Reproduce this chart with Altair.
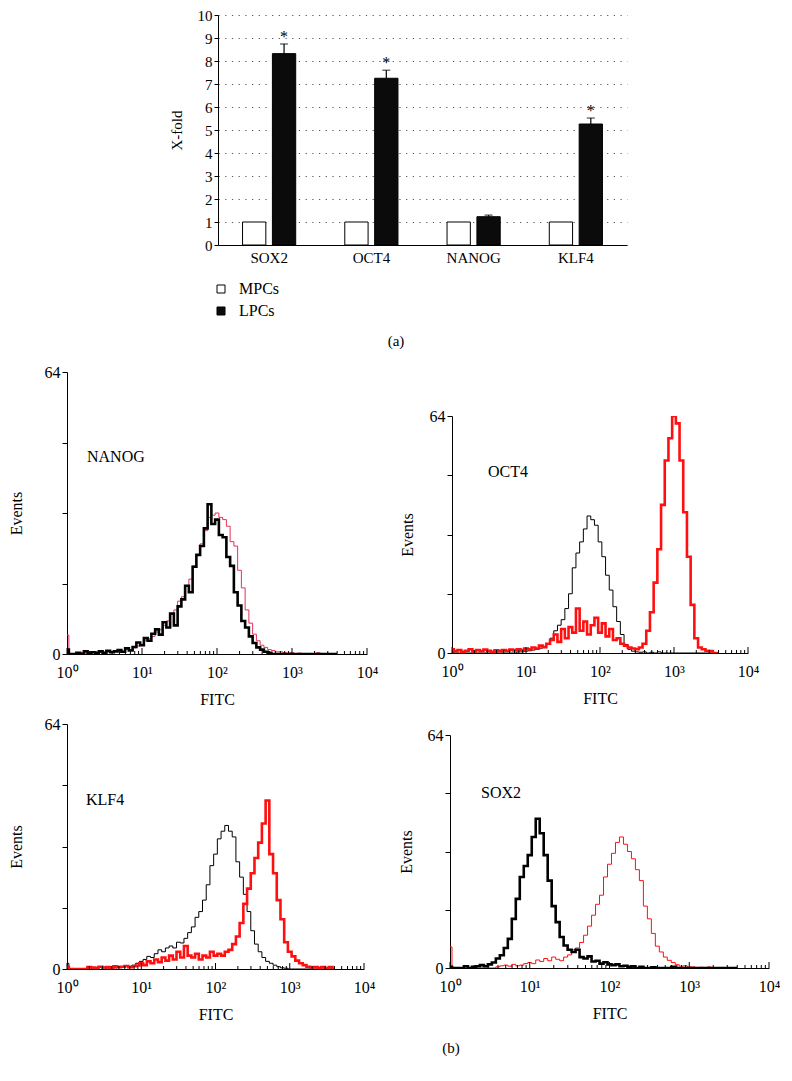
import altair as alt
import pandas as pd

FONT = "Liberation Serif"

# ---------------- (a) bar chart data ----------------
GENES = ["SOX2", "OCT4", "NANOG", "KLF4"]
GROUPS = ["MPCs", "LPCs"]
MPC_FOLD = [1.0, 1.0, 1.0, 1.0]
LPC_FOLD = [8.32, 7.25, 1.23, 5.26]
LPC_ERR = [0.42, 0.35, 0.07, 0.26]
SIG = ["*", "*", "", "*"]

# ---------------- (b) flow histograms ----------------
# channel positions (log10 of FITC), 0.05-decade bins
EXP = [round(i * 0.05, 2) for i in range(73)]

NANOG_MPC = [1.0, 0, 0, 0.3, 0, 0.6, 0, 0.4, 0.3, 0.6, 0.3, 0.7, 0.4, 0.6, 0.9, 0.5, 1.3, 0.8, 1.6, 2.6,
             2.0, 3.6, 3.0, 4.6, 5.6, 4.4, 7.2, 6.0, 9.2, 6.5, 10.8, 12.4, 15.5, 14.0, 19.8, 22.5, 24.5, 28.5, 34.0, 29.5,
             30.5, 27.0, 26.5, 22.0, 20.0, 14.0, 11.0, 7.5, 6.0, 4.0, 2.5, 1.5, 1.0, 0.5, 0.3, 0, 0, 0, 0, 0,
             0, 0, 0, 0, 0, 0, 0, 0, 0, 0, 0, 0, 0]
NANOG_LPC = [4.3, 0, 0, 0, 0.3, 0, 0.4, 0.5, 0.3, 0.5, 0.4, 0.6, 0.5, 0.6, 0.8, 0.6, 1.0, 1.0, 1.4, 1.8,
             2.2, 3.0, 3.5, 4.0, 5.0, 5.5, 6.5, 7.5, 9.0, 10.0, 12.0, 13.0, 15.5, 17.0, 20.0, 22.5, 25.0, 28.0, 31.0, 31.5,
             32.0, 31.0, 30.5, 29.0, 25.5, 24.5, 19.0, 15.0, 10.0, 7.0, 4.5, 3.0, 2.0, 1.5, 1.0, 0.8, 0.5, 0.5, 0.3, 0.2,
             0.3, 0, 0.2, 0, 0, 0, 0, 0.3, 0, 0, 0, 0, 0]

OCT4_MPC = [0.3, 0, 0, 0, 0, 0, 0, 0, 0, 0, 0, 0, 0, 0, 0, 0, 0, 0, 0.3, 0.3,
            0.5, 0.6, 0.8, 1.0, 1.3, 1.8, 2.5, 4.0, 6.0, 7.5, 9.0, 12.0, 16.0, 23.0, 27.0, 30.0, 33.5, 37.0, 36.0, 34.5,
            30.0, 26.0, 21.0, 17.0, 12.5, 8.5, 5.0, 2.3, 1.0, 0.5, 0.3, 0.2, 0.3, 0, 0.2, 0, 0.3, 0, 0, 0,
            0, 0, 0, 0, 0, 0, 0, 0, 0, 0, 0, 0, 0]
OCT4_LPC = [1.0, 0.5, 0.8, 0.3, 0.6, 1.0, 0.4, 0.8, 0.5, 0.9, 0.6, 0.3, 0.7, 0.5, 0.8, 0.6, 0.9, 0.7, 1.0, 0.8,
            1.2, 1.0, 1.5, 1.2, 2.0, 1.6, 2.5, 3.5, 5.0, 3.0, 6.5, 4.0, 7.0, 5.5, 12.0, 6.0, 8.5, 5.0, 7.5, 9.5,
            5.5, 8.0, 4.5, 6.5, 3.5, 4.0, 2.5, 2.0, 1.5, 1.2, 1.0, 1.5, 2.5, 6.0, 11.0, 19.0, 28.0, 40.0, 52.0, 58.0,
            64.0, 62.0, 52.0, 38.0, 26.0, 13.0, 4.0, 1.5, 1.0, 0.6, 0.5, 0, 0]

KLF4_MPC = [1.5, 0, 0, 0, 0, 0, 0.5, 0, 0, 0.4, 0.3, 0, 0.5, 0.3, 0.6, 0.4, 0.8, 0.6, 1.0, 1.5,
            2.0, 2.5, 3.3, 3.0, 4.0, 5.0, 4.5, 5.5, 6.0, 5.5, 7.0, 6.8, 8.0, 9.5, 11.0, 13.5, 15.0, 18.0, 22.0, 27.0,
            30.0, 34.0, 36.0, 37.5, 36.0, 34.5, 28.0, 24.0, 19.5, 15.0, 10.0, 6.5, 4.5, 3.0, 2.0, 1.5, 1.0, 0.6, 0.3, 0.2,
            0, 0, 0, 0, 0, 0, 0, 0, 0, 0, 0, 0, 0]
KLF4_LPC = [0.6, 0, 0, 0, 0, 0, 0.5, 0.4, 0.3, 0.6, 0.4, 0.5, 0.3, 0.7, 0.5, 0.6, 0.8, 0.5, 0.7, 0.9,
            1.5, 1.0, 2.0, 1.5, 2.5, 1.8, 3.0, 2.2, 3.5, 2.5, 4.5, 3.0, 6.0, 3.5, 3.0, 4.0, 2.5, 3.5, 3.0, 4.5,
            3.5, 4.0, 3.5, 4.5, 5.0, 6.5, 8.5, 12.0, 17.0, 21.0, 25.0, 29.0, 33.0, 38.0, 44.0, 30.0, 25.0, 18.0, 13.0, 7.0,
            4.5, 3.3, 2.2, 1.5, 1.0, 0.6, 0.4, 0.5, 0.3, 0.5, 0.2, 0.5, 0]

SOX2_MPC = [0.3, 0, 0, 0, 0.5, 0, 0.3, 0.5, 0.8, 0.5, 1.0, 1.5, 2.6, 3.5, 5.5, 8.0, 13.5, 19.0, 25.0, 28.0,
            31.0, 36.0, 41.0, 37.0, 31.0, 24.0, 17.0, 12.6, 8.5, 6.2, 5.0, 4.4, 5.0, 3.0, 2.6, 3.2, 1.8, 2.0, 1.2, 1.6,
            1.0, 0.8, 1.0, 0.5, 0.6, 0.3, 0.5, 0, 0.3, 0, 0, 0.2, 0, 0, 0, 0, 0.3, 0, 0, 0,
            0, 0, 0, 0, 0, 0, 0, 0, 0, 0, 0, 0, 0]
SOX2_LPC = [5.8, 0, 0, 0, 0, 0, 0, 0, 0, 0, 0, 0, 0.3, 0.6, 0.8, 0.5, 1.0, 0.6, 0.8, 1.2,
            1.5, 1.2, 2.2, 1.8, 2.6, 2.0, 3.0, 2.4, 2.0, 3.0, 3.6, 5.0, 5.5, 7.0, 9.0, 11.5, 14.5, 17.5, 20.0, 25.0,
            28.5, 31.5, 34.5, 36.0, 34.0, 32.0, 30.0, 27.0, 24.0, 17.0, 13.5, 9.5, 6.0, 4.4, 3.0, 2.1, 1.5, 0.9, 0.5, 0.6,
            0.3, 0.3, 0, 0.2, 0, 0.3, 0, 0, 0, 0, 0, 0, 0]

MAJOR_TICKS = [1, 10, 100, 1000, 10000]
MINOR_TICKS = [m * d for d in [1, 10, 100, 1000] for m in range(2, 10)]
EVENT_TICKS = [0, 16, 32, 48, 64]

RED = "#ff1010"
PINK = "#e4325a"
BAR_FS = 15
HIST_FS = 16


def spacer(w, h):
    return alt.Chart(pd.DataFrame({"a": [0]})).mark_point(opacity=0, size=1).encode(
        x=alt.value(w / 2), y=alt.value(h / 2)
    ).properties(width=w, height=h)


# ---------------- bar chart ----------------
bar_df = pd.DataFrame({
    "gene": GENES * 2,
    "group": ["MPCs"] * 4 + ["LPCs"] * 4,
    "value": MPC_FOLD + LPC_FOLD,
})
err_df = pd.DataFrame({
    "gene": GENES,
    "group": ["LPCs"] * 4,
    "value": LPC_FOLD,
    "hi": [v + e for v, e in zip(LPC_FOLD, LPC_ERR)],
})
top_df = pd.DataFrame({
    "gene": GENES,
    "group": ["LPCs"] * 4,
    "value": [v + e for v, e in zip(LPC_FOLD, LPC_ERR)],
    "sig": SIG,
})

x_gene = alt.X("gene:N", sort=GENES,
               scale=alt.Scale(paddingInner=0.48, paddingOuter=0.24),
               axis=alt.Axis(title=None, labelAngle=0, ticks=False, labelPadding=5,
                             labelFontSize=BAR_FS, domainColor="black", domainWidth=1))
x_off = alt.XOffset("group:N", sort=GROUPS,
                    scale=alt.Scale(domain=GROUPS, paddingInner=0.22))
y_val = alt.Y("value:Q", scale=alt.Scale(domain=[0, 10], nice=False),
              axis=alt.Axis(values=list(range(11)), title="X-fold", grid=True,
                            gridDash=[1.2, 5.5], gridColor="#555555", gridWidth=1,
                            tickSize=4, labelPadding=2, titlePadding=13,
                            labelFontSize=BAR_FS, titleFontSize=BAR_FS))

bars = alt.Chart(bar_df).mark_bar(stroke="black", strokeWidth=1).encode(
    x=x_gene, xOffset=x_off, y=y_val,
    fill=alt.Fill("group:N", scale=alt.Scale(domain=GROUPS, range=["white", "#0b0b0b"]),
                  legend=None),
)
err_rule = alt.Chart(err_df).mark_rule(color="black", strokeWidth=1.2).encode(
    x=x_gene, xOffset=x_off, y=y_val, y2="hi:Q")
err_cap = alt.Chart(top_df).mark_tick(color="black", thickness=1.2, size=8,
                                      orient="horizontal").encode(
    x=x_gene, xOffset=x_off, y=y_val)
stars = alt.Chart(top_df).mark_text(fontSize=BAR_FS + 1, baseline="alphabetic", dy=-2).encode(
    x=x_gene, xOffset=x_off, y=y_val, text="sig:N")

# manual legend (below the axis) and panel tag
leg_mpc_sym = alt.Chart(pd.DataFrame({"n": ["MPCs"]})).mark_square(
    size=64, fill="white", stroke="black", strokeWidth=1, opacity=1).encode(
    x=alt.value(3), y=alt.value(274))
leg_lpc_sym = alt.Chart(pd.DataFrame({"n": ["LPCs"]})).mark_square(
    size=64, fill="#0b0b0b", stroke="black", strokeWidth=1, opacity=1).encode(
    x=alt.value(3), y=alt.value(296))
leg_mpc_txt = alt.Chart(pd.DataFrame({"n": ["MPCs"]})).mark_text(
    fontSize=HIST_FS, align="left", baseline="middle").encode(
    text="n:N", x=alt.value(21), y=alt.value(274))
leg_lpc_txt = alt.Chart(pd.DataFrame({"n": ["LPCs"]})).mark_text(
    fontSize=HIST_FS, align="left", baseline="middle").encode(
    text="n:N", x=alt.value(21), y=alt.value(296))
label_a = alt.Chart(pd.DataFrame({"t": ["(a)"]})).mark_text(fontSize=BAR_FS).encode(
    text="t:N", x=alt.value(178), y=alt.value(326))

bar_chart = alt.layer(bars, err_rule, err_cap, stars,
                      leg_mpc_sym, leg_lpc_sym, leg_mpc_txt, leg_lpc_txt,
                      label_a).properties(width=409, height=230)


# ---------------- histogram panels ----------------
LABEL_EXPR = ("datum.value == 1 ? '10⁰' : datum.value == 10 ? '10¹' : "
              "datum.value == 100 ? '10²' : datum.value == 1000 ? '10³' : '10⁴'")


def hist_panel(name, mpc, lpc, w, h, lx, ly, mpc_style, lpc_style, lpc_on_top, tp):
    x_enc = alt.X("fitc:Q",
                  scale=alt.Scale(type="log", domain=[1, 10000], nice=False, padding=0),
                  axis=alt.Axis(values=MAJOR_TICKS, labelExpr=LABEL_EXPR, ticks=False,
                                labelFlush=False, labelOverlap=False,
                                title="FITC", grid=False, labelPadding=10, titlePadding=11,
                                domainColor="black"))
    y_enc = alt.Y("events:Q", scale=alt.Scale(domain=[0, 64], nice=False, padding=0),
                  axis=alt.Axis(values=EVENT_TICKS,
                                labelExpr="datum.value == 0 || datum.value == 64 ? datum.label : ''",
                                title="Events", grid=False, tickSize=5, labelPadding=2,
                                labelFlush=False, titlePadding=tp, domainColor="black"))
    df_m = pd.DataFrame({"fitc": [10 ** e for e in EXP], "events": mpc})
    df_l = pd.DataFrame({"fitc": [10 ** e for e in EXP], "events": lpc})
    line_m = alt.Chart(df_m).mark_line(interpolate="step", clip=True, color=mpc_style[0],
                                       strokeWidth=mpc_style[1]).encode(x=x_enc, y=y_enc)
    line_l = alt.Chart(df_l).mark_line(interpolate="step", clip=True, color=lpc_style[0],
                                       strokeWidth=lpc_style[1]).encode(x=x_enc, y=y_enc)
    minor = alt.Chart(pd.DataFrame({"fitc": MINOR_TICKS})).mark_rule(color="black").encode(
        x=x_enc, y=alt.value(h), y2=alt.value(h - 3))
    major = alt.Chart(pd.DataFrame({"fitc": MAJOR_TICKS})).mark_rule(color="black").encode(
        x=x_enc, y=alt.value(h), y2=alt.value(h - 6))
    lab = alt.Chart(pd.DataFrame({"t": [name]})).mark_text(
        fontSize=HIST_FS, align="left", baseline="middle").encode(
        text="t:N", x=alt.value(lx), y=alt.value(ly))
    lines = [line_m, line_l] if lpc_on_top else [line_l, line_m]
    return alt.layer(*lines, minor, major, lab).properties(width=w, height=h)


p_nanog = hist_panel("NANOG", NANOG_MPC, NANOG_LPC, 300, 282, 20, 85,
                     ("black", 2.6), (PINK, 1.0), False, 20)
p_oct4 = hist_panel("OCT4", OCT4_MPC, OCT4_LPC, 296, 237, 36, 56,
                    ("black", 1.0), (RED, 2.6), True, 14)
p_klf4 = hist_panel("KLF4", KLF4_MPC, KLF4_LPC, 297, 245, 19, 76,
                    ("black", 1.0), (RED, 2.6), True, 20)
p_sox2 = hist_panel("SOX2", SOX2_MPC, SOX2_LPC, 319, 233, 31, 58,
                    ("black", 2.6), (RED, 1.0), False, 13)

label_b = alt.Chart(pd.DataFrame({"t": ["(b)"]})).mark_text(fontSize=BAR_FS).encode(
    text="t:N", x=alt.value(384), y=alt.value(8)).properties(width=1, height=16)

top_row = alt.hconcat(spacer(102, 1), bar_chart, spacing=0)
row1 = alt.hconcat(p_nanog, alt.vconcat(spacer(1, 36), p_oct4, spacing=0), spacing=21)
row2 = alt.hconcat(p_klf4, alt.vconcat(spacer(1, 3), p_sox2, spacing=0), spacing=23)

chart = alt.vconcat(
    top_row,
    alt.vconcat(row1, alt.vconcat(row2, label_b, spacing=18), spacing=9),
    spacing=15,
    padding={"left": 0, "top": 0, "right": 0, "bottom": 0},
)
chart = chart.configure_view(stroke=None).configure_axis(
    labelFont=FONT, titleFont=FONT, labelFontSize=HIST_FS, titleFontSize=HIST_FS,
    titleFontWeight="normal", labelColor="black", titleColor="black",
    tickColor="black", domainColor="black"
).configure_text(font=FONT, color="black")

chart.save("out.html", embed_options={"renderer": "svg", "actions": False})
